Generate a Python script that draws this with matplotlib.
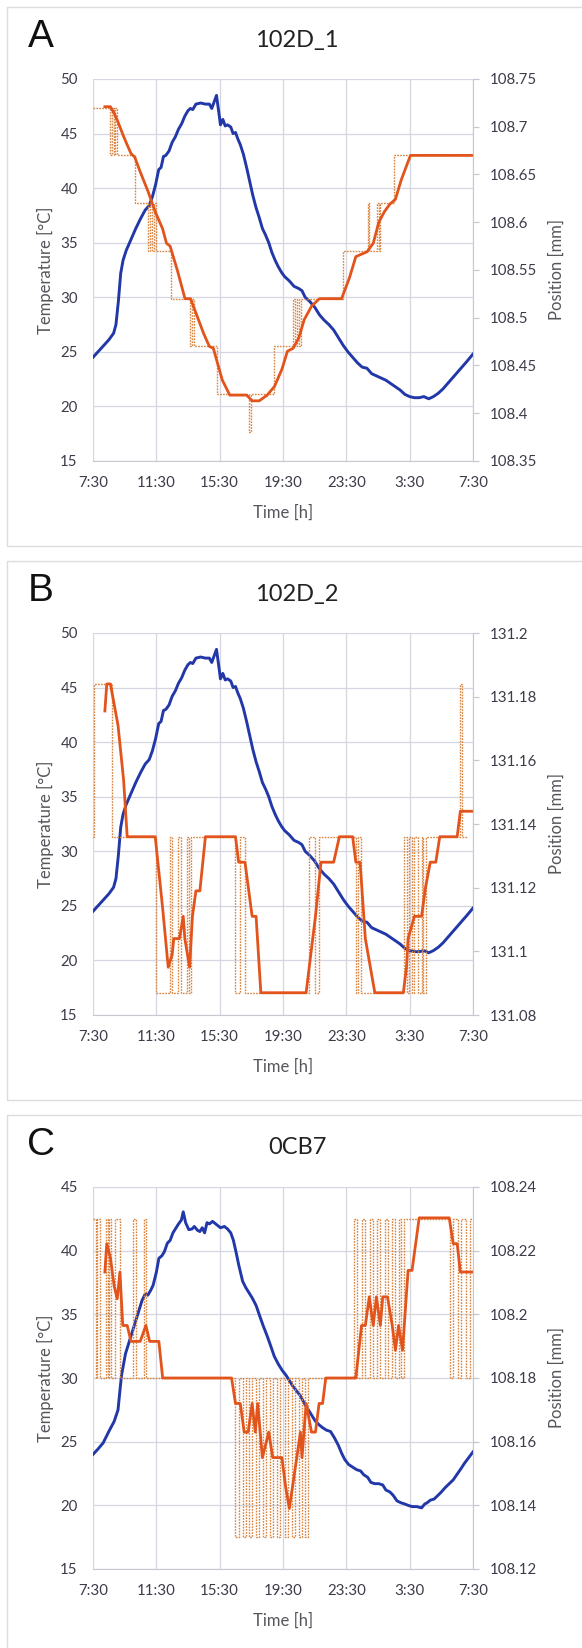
import matplotlib.pyplot as plt
from matplotlib.patches import Rectangle

plt.rcParams['font.family'] = ['Lato', 'DejaVu Sans']

W, H = 582, 1648

# time axis: hours after 7:30
time_ticks = [0, 4, 8, 12, 16, 20, 24]
time_labels = ['7:30', '11:30', '15:30', '19:30', '23:30', '3:30', '7:30']

panel_letters = ['A', 'B', 'C']
panel_titles = ['102D_1', '102D_2', '0CB7']

# ambient temperature, sensor 102D (same log for both channels)
temp_ab_t = [0, 0.5, 1.0, 1.3, 1.45, 1.6, 1.75, 1.9, 2.1, 2.4, 2.7, 3.0, 3.3, 3.55, 3.75,
             3.95, 4.15, 4.3, 4.45, 4.6, 4.8, 5.0, 5.2, 5.4, 5.6, 5.8, 6.0, 6.15, 6.3, 6.5,
             6.8, 7.1, 7.35, 7.5, 7.65, 7.8, 7.95, 8.05, 8.2, 8.35, 8.5, 8.7, 8.85, 9.0, 9.15,
             9.3, 9.5, 9.7, 9.9, 10.1, 10.3, 10.5, 10.7, 10.9, 11.1, 11.3, 11.5, 11.7, 11.9,
             12.1, 12.4, 12.7, 13.0, 13.2, 13.4, 13.7, 14.0, 14.3, 14.6, 14.9, 15.2, 15.5,
             15.8, 16.1, 16.4, 16.7, 17.0, 17.3, 17.6, 17.9, 18.2, 18.5, 18.8, 19.1, 19.4,
             19.7, 20.0, 20.3, 20.6, 20.9, 21.2, 21.5, 21.8, 22.1, 22.4, 22.7, 23.0, 23.3,
             23.6, 24.0]
temp_ab = [24.5, 25.3, 26.1, 26.7, 27.5, 29.6, 32.2, 33.4, 34.3, 35.3, 36.3, 37.2, 38.0, 38.4,
           39.2, 40.3, 41.7, 41.9, 42.9, 43.0, 43.4, 44.2, 44.7, 45.4, 45.9, 46.6, 47.1, 47.3,
           47.2, 47.7, 47.8, 47.7, 47.7, 47.3, 47.9, 48.5, 46.9, 45.8, 46.3, 45.7, 45.8, 45.6,
           45.0, 45.1, 44.5, 44.0, 43.1, 41.9, 40.6, 39.3, 38.2, 37.3, 36.3, 35.7, 35.0, 34.1,
           33.4, 32.8, 32.3, 31.9, 31.5, 31.0, 30.8, 30.6, 30.0, 29.6, 29.1, 28.4, 27.9, 27.5,
           27.0, 26.3, 25.6, 25.0, 24.5, 24.0, 23.6, 23.5, 23.0, 22.8, 22.6, 22.4, 22.1, 21.8,
           21.5, 21.1, 20.9, 20.8, 20.8, 20.9, 20.7, 20.9, 21.2, 21.6, 22.1, 22.6, 23.1, 23.6,
           24.1, 24.8]

# ambient temperature, sensor 0CB7
temp_c_t = [0, 0.3, 0.64, 1.0, 1.34, 1.58, 1.7, 1.8, 2.05, 2.4, 2.75, 3.1, 3.3, 3.46, 3.65,
            3.8, 4.0, 4.16, 4.35, 4.5, 4.7, 4.87, 5.05, 5.2, 5.4, 5.58, 5.7, 5.85, 6.05, 6.25,
            6.4, 6.6, 6.75, 6.9, 7.05, 7.2, 7.35, 7.55, 7.75, 8.05, 8.3, 8.5, 8.7, 8.87, 9.05,
            9.2, 9.45, 9.65, 9.8, 10.05, 10.3, 10.55, 10.75, 11.0, 11.2, 11.45, 11.7, 11.95,
            12.2, 12.4, 12.6, 12.85, 13.1, 13.35, 13.6, 13.85, 14.05, 14.3, 14.5, 14.75, 15.0,
            15.25, 15.5, 15.7, 15.9, 16.15, 16.4, 16.65, 16.9, 17.1, 17.35, 17.55, 17.8, 18.05,
            18.3, 18.5, 18.75, 18.95, 19.2, 19.45, 19.7, 19.9, 20.15, 20.45, 20.75, 20.95, 21.1,
            21.3, 21.55, 21.8, 22.0, 22.25, 22.5, 22.75, 23.0, 23.25, 23.46, 23.7, 24.0]
temp_c = [24.0, 24.4, 24.9, 25.8, 26.6, 27.5, 29.0, 30.2, 31.9, 33.3, 34.7, 36.1, 36.6, 36.5,
          36.9, 37.3, 38.3, 39.4, 39.6, 39.9, 40.6, 40.8, 41.4, 41.7, 42.1, 42.4, 43.05, 42.2,
          41.65, 41.7, 41.9, 41.6, 41.5, 41.8, 41.4, 42.2, 42.1, 42.3, 42.1, 41.8, 41.9, 41.7,
          41.4, 40.8, 39.8, 38.9, 37.6, 37.1, 36.8, 36.3, 35.7, 34.8, 34.1, 33.3, 32.6, 31.7,
          31.1, 30.6, 30.2, 29.8, 29.4, 29.0, 28.6, 28.0, 27.5, 27.0, 26.6, 26.3, 26.1, 25.9,
          25.8, 25.3, 24.7, 24.1, 23.6, 23.2, 23.0, 22.8, 22.7, 22.4, 22.2, 21.8, 21.7, 21.7,
          21.6, 21.2, 21.05, 20.8, 20.35, 20.2, 20.1, 20.0, 19.9, 19.9, 19.8, 20.1, 20.2, 20.4,
          20.5, 20.8, 21.05, 21.4, 21.7, 22.0, 22.45, 22.9, 23.3, 23.7, 24.2]

# smoothed position [mm]
pos_a_t = [0.75, 1.1, 1.34, 1.58, 1.93, 2.16, 2.4, 2.64, 3.0, 3.46, 3.93, 4.4, 4.64, 4.87, 5.34,
           5.81, 6.16, 6.5, 7.0, 7.35, 7.6, 8.16, 8.64, 9.7, 10.05, 10.5, 11.0, 11.46, 11.93,
           12.28, 12.64, 13.0, 13.34, 13.8, 14.3, 15.7, 16.2, 16.6, 17.3, 17.7, 18.05, 18.4,
           18.75, 19.1, 19.46, 20.05, 24.0]
pos_a = [108.721, 108.721, 108.714, 108.705, 108.690, 108.681, 108.672, 108.668, 108.652,
         108.633, 108.611, 108.593, 108.578, 108.575, 108.549, 108.520, 108.520, 108.505,
         108.483, 108.470, 108.468, 108.435, 108.419, 108.419, 108.413, 108.413, 108.419,
         108.428, 108.446, 108.465, 108.468, 108.479, 108.498, 108.512, 108.520, 108.520,
         108.542, 108.564, 108.569, 108.578, 108.600, 108.611, 108.619, 108.624, 108.644,
         108.670, 108.670]

pos_b_t = [0.75, 0.87, 1.1, 1.58, 1.93, 2.16, 3.93, 4.4, 4.75, 5.0, 5.1, 5.46, 5.7, 5.8, 6.1,
           6.28, 6.5, 6.75, 7.1, 9.0, 9.2, 9.6, 10.05, 10.3, 10.6, 13.46, 14.05, 14.4, 15.2,
           15.56, 16.4, 16.6, 16.87, 17.2, 17.8, 19.6, 19.8, 19.9, 20.3, 20.75, 21.0, 21.3,
           21.65, 21.9, 23.0, 23.2, 24.0]
pos_b = [131.1755, 131.184, 131.184, 131.171, 131.154, 131.136, 131.136, 131.1135, 131.095,
         131.099, 131.104, 131.104, 131.111, 131.104, 131.095, 131.111, 131.119, 131.119,
         131.136, 131.136, 131.128, 131.128, 131.111, 131.111, 131.087, 131.087, 131.111,
         131.128, 131.128, 131.136, 131.136, 131.128, 131.128, 131.104, 131.087, 131.087,
         131.095, 131.104, 131.111, 131.111, 131.120, 131.128, 131.128, 131.136, 131.136,
         131.144, 131.144]

pos_c_t = [0.75, 0.87, 1.1, 1.34, 1.53, 1.7, 1.88, 2.16, 2.4, 2.98, 3.34, 3.58, 4.16, 4.4, 8.75,
           9.0, 9.3, 9.55, 9.8, 10.05, 10.25, 10.4, 10.7, 11.1, 11.35, 11.93, 12.16, 12.4,
           12.87, 13.1, 13.2, 13.46, 13.8, 14.05, 14.28, 14.5, 14.7, 16.6, 16.96, 17.2, 17.45,
           17.7, 17.9, 18.15, 18.3, 18.6, 18.9, 19.1, 19.3, 19.55, 19.9, 20.15, 20.6, 22.5,
           22.75, 23.0, 23.2, 24.0]
pos_c = [108.2133, 108.2222, 108.2177, 108.2088, 108.2049, 108.2133, 108.1965, 108.1965,
         108.1915, 108.1915, 108.1965, 108.1915, 108.1915, 108.18, 108.18, 108.172, 108.172,
         108.163, 108.163, 108.172, 108.163, 108.172, 108.155, 108.163, 108.155, 108.155,
         108.146, 108.139, 108.155, 108.163, 108.155, 108.172, 108.163, 108.163, 108.172,
         108.172, 108.18, 108.18, 108.1965, 108.1965, 108.2055, 108.1965, 108.2055, 108.1965,
         108.2055, 108.2055, 108.1965, 108.1887, 108.1965, 108.1887, 108.2138, 108.2138,
         108.2303, 108.2303, 108.2222, 108.2222, 108.2133, 108.2133]

# raw (quantised) position readings, held until the next change
raw_a_t = [0, 1.1, 1.2, 1.3, 1.4, 1.5, 2.64, 3.45, 3.6, 3.75, 3.85, 3.95, 4.9, 6.15, 6.25, 6.4,
           7.85, 9.85, 9.95, 11.45, 12.65, 12.75, 12.9, 13.0, 13.15, 15.8, 17.35, 17.45, 17.95,
           18.05, 18.15, 19.0, 24.0]
raw_a = [108.72, 108.67, 108.72, 108.67, 108.72, 108.67, 108.62, 108.57, 108.62, 108.57,
         108.62, 108.57, 108.52, 108.47, 108.52, 108.47, 108.42, 108.38, 108.42, 108.47,
         108.52, 108.47, 108.52, 108.47, 108.52, 108.57, 108.62, 108.57, 108.62, 108.57,
         108.62, 108.67, 108.67]

raw_b_t = [0, 0.05, 1.2, 3.95, 4.85, 5.0, 5.4, 5.55, 5.95, 6.05, 6.2, 9.0, 9.3, 9.6, 13.65,
           14.0, 14.3, 16.6, 16.75, 16.9, 19.65, 19.8, 19.95, 20.15, 20.3, 20.55, 20.75, 20.85,
           21.0, 23.15, 23.3, 23.6]
raw_b = [131.136, 131.184, 131.136, 131.087, 131.136, 131.087, 131.136, 131.087, 131.136,
         131.087, 131.136, 131.087, 131.136, 131.087, 131.136, 131.087, 131.136, 131.087,
         131.136, 131.087, 131.136, 131.087, 131.136, 131.087, 131.136, 131.087, 131.136,
         131.087, 131.136, 131.184, 131.136, 131.136]

raw_c_t = [0, 0.2, 0.25, 0.45, 0.8, 0.95, 1.0, 1.15, 1.4, 1.7, 2.55, 2.7, 3.2, 3.35,
           9.0, 9.2, 9.45, 9.65, 9.85, 10.05, 10.3, 10.5, 10.75, 10.95, 11.15, 11.35, 11.6,
           11.8, 12.1, 12.3, 12.55, 12.75, 13.0, 13.2, 13.4, 13.6,
           16.5, 16.65, 17.0, 17.15, 17.5, 17.7, 17.95, 18.15, 18.45, 18.6, 18.9, 19.05, 19.3,
           19.45, 19.65,
           22.55, 22.75, 23.05, 23.25, 23.55, 23.8, 24.0]
raw_c = [108.23, 108.18, 108.23, 108.18, 108.23, 108.18, 108.23, 108.18, 108.23, 108.18,
         108.23, 108.18, 108.23, 108.18,
         108.13, 108.18, 108.13, 108.18, 108.13, 108.18, 108.13, 108.18, 108.13, 108.18,
         108.13, 108.18, 108.13, 108.18, 108.13, 108.18, 108.13, 108.18, 108.13, 108.18,
         108.13, 108.18,
         108.23, 108.18, 108.23, 108.18, 108.23, 108.18, 108.23, 108.18, 108.23, 108.18,
         108.23, 108.18, 108.23, 108.18, 108.23,
         108.18, 108.23, 108.18, 108.23, 108.18, 108.23, 108.23]

temp_ticks_ab = [15, 20, 25, 30, 35, 40, 45, 50]
temp_ticks_c = [15, 20, 25, 30, 35, 40, 45]
pos_ticks_a = [108.35, 108.4, 108.45, 108.5, 108.55, 108.6, 108.65, 108.7, 108.75]
pos_ticks_b = [131.08, 131.1, 131.12, 131.14, 131.16, 131.18, 131.2]
pos_ticks_c = [108.12, 108.14, 108.16, 108.18, 108.2, 108.22, 108.24]

BLUE = '#2238a8'
ORANGE = '#e2541c'
RAW = '#d8843e'
GRID = '#d6d6e0'
TICK_TXT = '#3c3c4a'
LABEL_TXT = '#55555c'

fig = plt.figure(figsize=(W / 100, H / 100), dpi=100)


def fx(px):
    return px / W


def fy(py):
    return 1 - py / H


def draw_panel(top, letter, title, temp_t, temp, temp_ticks, pos_t, pos, raw_t, raw, pos_ticks):
    # light frame around each panel
    fig.patches.append(Rectangle((fx(7), fy(top + 539)), fx(600), 539 / H,
                                 transform=fig.transFigure, fill=False,
                                 ec='#dcdcdc', lw=1.0))
    fig.text(fx(41), fy(top + 30), letter, fontsize=28, family='Liberation Sans',
             ha='center', va='center', color='#111111')
    fig.text(fx(297), fy(top + 33), title, fontsize=17, ha='center', va='center',
             color='#222222')

    ax = fig.add_axes([fx(93), fy(top + 454), fx(380), 382 / H])
    ax.plot(temp_t, temp, color=BLUE, lw=2.1, solid_joinstyle='round')
    ax.set_xlim(0, 24)
    ax.set_ylim(temp_ticks[0], temp_ticks[-1])
    ax.set_xticks(time_ticks)
    ax.set_xticklabels(time_labels)
    ax.set_yticks(temp_ticks)
    ax.grid(True, color=GRID, lw=0.9)
    ax.set_axisbelow(True)
    for side in ['left', 'top', 'right']:
        ax.spines[side].set_visible(False)
    ax.spines['bottom'].set_color('#c8c8d0')
    ax.tick_params(axis='y', length=0, pad=11, labelsize=10.8, labelcolor=TICK_TXT)
    ax.tick_params(axis='x', length=0, pad=10.5, labelsize=10.8, labelcolor=TICK_TXT)

    ax2 = ax.twinx()
    ax2.plot(raw_t, raw, color=RAW, lw=1.0, ls=(0, (1.2, 0.9)), drawstyle='steps-post')
    ax2.plot(pos_t, pos, color=ORANGE, lw=2.0, solid_joinstyle='round')
    ax2.set_ylim(pos_ticks[0], pos_ticks[-1])
    ax2.set_yticks(pos_ticks)
    ax2.set_yticklabels([f'{v:g}' for v in pos_ticks])
    for side in ['left', 'top', 'bottom']:
        ax2.spines[side].set_visible(False)
    ax2.spines['right'].set_color('#c8c8d0')
    ax2.tick_params(axis='y', length=4, width=0.9, color='#c8c8d0', pad=8,
                    labelsize=10.8, labelcolor=TICK_TXT)

    fig.text(fx(45), fy(top + 263), 'Temperature [°C]', rotation=90, fontsize=12,
             ha='center', va='center', color=LABEL_TXT)
    fig.text(fx(557), fy(top + 263), 'Position [mm]', rotation=90, fontsize=12,
             ha='center', va='center', color=LABEL_TXT)
    fig.text(fx(283), fy(top + 506), 'Time [h]', fontsize=12, ha='center', va='center',
             color=LABEL_TXT)


draw_panel(7, panel_letters[0], panel_titles[0], temp_ab_t, temp_ab, temp_ticks_ab,
           pos_a_t, pos_a, raw_a_t, raw_a, pos_ticks_a)
draw_panel(561, panel_letters[1], panel_titles[1], temp_ab_t, temp_ab, temp_ticks_ab,
           pos_b_t, pos_b, raw_b_t, raw_b, pos_ticks_b)
draw_panel(1115, panel_letters[2], panel_titles[2], temp_c_t, temp_c, temp_ticks_c,
           pos_c_t, pos_c, raw_c_t, raw_c, pos_ticks_c)

fig.savefig('out.png', dpi=100)
